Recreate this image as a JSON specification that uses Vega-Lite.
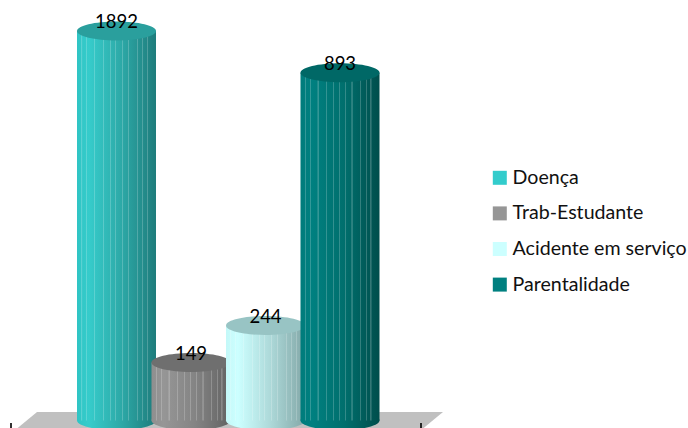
{
"$schema":"https://vega.github.io/schema/vega-lite/v6.json",
"width":688,"height":428,"padding":0,"autosize":{"type":"none"},"background":"white",
"config":{"view":{"stroke":null},
"style":{
"stripes":{"color":{"gradient":"linear","x1":0,"x2":1,"y1":0,"y2":0,"stops":[
{"offset":0,"color":"rgba(255,255,255,0)"},
{"offset":0.054,"color":"rgba(255,255,255,0)"},{"offset":0.056,"color":"rgba(255,255,255,0.2)"},{"offset":0.068,"color":"rgba(255,255,255,0.2)"},{"offset":0.07,"color":"rgba(255,255,255,0)"},
{"offset":0.114,"color":"rgba(255,255,255,0)"},{"offset":0.116,"color":"rgba(255,255,255,0.2)"},{"offset":0.128,"color":"rgba(255,255,255,0.2)"},{"offset":0.13,"color":"rgba(255,255,255,0)"},
{"offset":0.214,"color":"rgba(255,255,255,0)"},{"offset":0.216,"color":"rgba(255,255,255,0.2)"},{"offset":0.228,"color":"rgba(255,255,255,0.2)"},{"offset":0.23,"color":"rgba(255,255,255,0)"},
{"offset":0.324,"color":"rgba(255,255,255,0)"},{"offset":0.326,"color":"rgba(255,255,255,0.2)"},{"offset":0.338,"color":"rgba(255,255,255,0.2)"},{"offset":0.34,"color":"rgba(255,255,255,0)"},
{"offset":0.414,"color":"rgba(255,255,255,0)"},{"offset":0.416,"color":"rgba(255,255,255,0.2)"},{"offset":0.428,"color":"rgba(255,255,255,0.2)"},{"offset":0.43,"color":"rgba(255,255,255,0)"},
{"offset":0.484,"color":"rgba(255,255,255,0)"},{"offset":0.486,"color":"rgba(255,255,255,0.2)"},{"offset":0.498,"color":"rgba(255,255,255,0.2)"},{"offset":0.5,"color":"rgba(255,255,255,0)"},
{"offset":0.564,"color":"rgba(255,255,255,0)"},{"offset":0.566,"color":"rgba(255,255,255,0.2)"},{"offset":0.578,"color":"rgba(255,255,255,0.2)"},{"offset":0.58,"color":"rgba(255,255,255,0)"},
{"offset":0.644,"color":"rgba(255,255,255,0)"},{"offset":0.646,"color":"rgba(255,255,255,0.2)"},{"offset":0.658,"color":"rgba(255,255,255,0.2)"},{"offset":0.66,"color":"rgba(255,255,255,0)"},
{"offset":0.754,"color":"rgba(255,255,255,0)"},{"offset":0.756,"color":"rgba(255,255,255,0.2)"},{"offset":0.768,"color":"rgba(255,255,255,0.2)"},{"offset":0.77,"color":"rgba(255,255,255,0)"},
{"offset":0.824,"color":"rgba(255,255,255,0)"},{"offset":0.826,"color":"rgba(255,255,255,0.2)"},{"offset":0.838,"color":"rgba(255,255,255,0.2)"},{"offset":0.84,"color":"rgba(255,255,255,0)"},
{"offset":0.884,"color":"rgba(255,255,255,0)"},{"offset":0.886,"color":"rgba(255,255,255,0.2)"},{"offset":0.898,"color":"rgba(255,255,255,0.2)"},{"offset":0.9,"color":"rgba(255,255,255,0)"},
{"offset":1,"color":"rgba(255,255,255,0)"}]}},
"bodyDoenca":{"color":{"gradient":"linear","x1":0,"x2":1,"y1":0,"y2":0,"stops":[{"offset":0,"color":"#2fc4c4"},{"offset":0.15,"color":"#36cccb"},{"offset":0.55,"color":"#2daaa8"},{"offset":1,"color":"#1e7c7c"}]}},
"bodyTrab":{"color":{"gradient":"linear","x1":0,"x2":1,"y1":0,"y2":0,"stops":[{"offset":0,"color":"#8f8f8f"},{"offset":0.15,"color":"#969696"},{"offset":0.55,"color":"#848484"},{"offset":1,"color":"#626262"}]}},
"bodyAcidente":{"color":{"gradient":"linear","x1":0,"x2":1,"y1":0,"y2":0,"stops":[{"offset":0,"color":"#c4f8f8"},{"offset":0.15,"color":"#ccffff"},{"offset":0.55,"color":"#aedada"},{"offset":1,"color":"#83a8a8"}]}},
"bodyParent":{"color":{"gradient":"linear","x1":0,"x2":1,"y1":0,"y2":0,"stops":[{"offset":0,"color":"#007c7c"},{"offset":0.15,"color":"#008080"},{"offset":0.55,"color":"#006f6d"},{"offset":1,"color":"#004e4c"}]}}
}},
"datasets":{"rows":[
{"motivo":"Doença","dias":1892},
{"motivo":"Trab-Estudante","dias":149},
{"motivo":"Acidente em serviço","dias":244},
{"motivo":"Parentalidade","dias":893}]},
"data":{"name":"rows"},
"encoding":{
"x":{"field":"motivo","type":"nominal","sort":null,"axis":null,"scale":{"type":"band","range":[79.25,377.25],"paddingInner":0,"paddingOuter":0}},
"y":{"field":"dias","type":"quantitative","axis":null,"scale":{"domain":[0,1000],"range":[420.6,31],"clamp":true}}
},
"layer":[
{"transform":[{"filter":"datum.motivo==='Doença'"}],"mark":{"type":"point","filled":true,"opacity":1,"fill":"#c0c0c0","size":4,"shape":"M-79.5,-8.6L326.5,-8.6L304,10L-102,10Z"},"encoding":{"y":{"datum":0}}},
{"transform":[{"filter":"datum.motivo==='Doença'"}],"mark":{"type":"point","filled":false,"opacity":1,"stroke":"#000000","strokeWidth":1.6,"size":4,"shape":"M-105.5,2.4V9M304.5,2.4V9"},"encoding":{"y":{"datum":0}}},

{"transform":[{"filter":"datum.motivo==='Doença'"}],"mark":{"type":"point","filled":true,"opacity":1,"style":"bodyDoenca","size":6241,"shape":"M-1,0A1,0.24 0 1,1 1,0A1,0.24 0 1,1 -1,0Z"},"encoding":{"y":{"datum":0}}},
{"transform":[{"filter":"datum.motivo==='Doença'"}],"mark":{"type":"bar","width":79,"style":"bodyDoenca"}},
{"transform":[{"filter":"datum.motivo==='Doença'"}],"mark":{"type":"bar","width":79,"style":"stripes"}},
{"transform":[{"filter":"datum.motivo==='Doença'"}],"mark":{"type":"point","filled":true,"opacity":1,"fill":"#2a9f9d","size":6241,"shape":"M-1,0A1,0.24 0 1,1 1,0A1,0.24 0 1,1 -1,0Z"}},

{"transform":[{"filter":"datum.motivo==='Trab-Estudante'"}],"mark":{"type":"point","filled":true,"opacity":1,"style":"bodyTrab","size":6241,"shape":"M-1,0A1,0.24 0 1,1 1,0A1,0.24 0 1,1 -1,0Z"},"encoding":{"y":{"datum":0}}},
{"transform":[{"filter":"datum.motivo==='Trab-Estudante'"}],"mark":{"type":"bar","width":79,"style":"bodyTrab"}},
{"transform":[{"filter":"datum.motivo==='Trab-Estudante'"}],"mark":{"type":"bar","width":79,"style":"stripes"}},
{"transform":[{"filter":"datum.motivo==='Trab-Estudante'"}],"mark":{"type":"point","filled":true,"opacity":1,"fill":"#6f6f6f","size":6241,"shape":"M-1,0A1,0.24 0 1,1 1,0A1,0.24 0 1,1 -1,0Z"}},

{"transform":[{"filter":"datum.motivo==='Acidente em serviço'"}],"mark":{"type":"point","filled":true,"opacity":1,"style":"bodyAcidente","size":6241,"shape":"M-1,0A1,0.24 0 1,1 1,0A1,0.24 0 1,1 -1,0Z"},"encoding":{"y":{"datum":0}}},
{"transform":[{"filter":"datum.motivo==='Acidente em serviço'"}],"mark":{"type":"bar","width":79,"style":"bodyAcidente"}},
{"transform":[{"filter":"datum.motivo==='Acidente em serviço'"}],"mark":{"type":"bar","width":79,"style":"stripes"}},
{"transform":[{"filter":"datum.motivo==='Acidente em serviço'"}],"mark":{"type":"point","filled":true,"opacity":1,"fill":"#98c4c4","size":6241,"shape":"M-1,0A1,0.24 0 1,1 1,0A1,0.24 0 1,1 -1,0Z"}},

{"transform":[{"filter":"datum.motivo==='Parentalidade'"}],"mark":{"type":"point","filled":true,"opacity":1,"style":"bodyParent","size":6241,"shape":"M-1,0A1,0.24 0 1,1 1,0A1,0.24 0 1,1 -1,0Z"},"encoding":{"y":{"datum":0}}},
{"transform":[{"filter":"datum.motivo==='Parentalidade'"}],"mark":{"type":"bar","width":79,"style":"bodyParent"}},
{"transform":[{"filter":"datum.motivo==='Parentalidade'"}],"mark":{"type":"bar","width":79,"style":"stripes"}},
{"transform":[{"filter":"datum.motivo==='Parentalidade'"}],"mark":{"type":"point","filled":true,"opacity":1,"fill":"#006866","size":6241,"shape":"M-1,0A1,0.24 0 1,1 1,0A1,0.24 0 1,1 -1,0Z"}},

{"mark":{"type":"text","font":"Lato","fontSize":18.5,"color":"#000000","dy":-9,"baseline":"middle","align":"center"},"encoding":{"text":{"field":"dias","type":"quantitative","format":"d"}}},

{"mark":{"type":"point","filled":true,"shape":"square","opacity":0},"encoding":{"color":{"field":"motivo","type":"nominal","sort":null,"scale":{"domain":["Doença","Trab-Estudante","Acidente em serviço","Parentalidade"],"range":["#33cccc","#969696","#ccffff","#008080"]},"legend":{"title":null,"orient":"none","legendX":490,"legendY":168,"symbolType":"square","symbolSize":196,"symbolOpacity":1,"symbolStrokeWidth":0,"labelFont":"Lato","labelFontSize":19.6,"labelColor":"#111111","labelOffset":3,"rowPadding":14.6,"labelLimit":220,"padding":0}}}}
]
}
